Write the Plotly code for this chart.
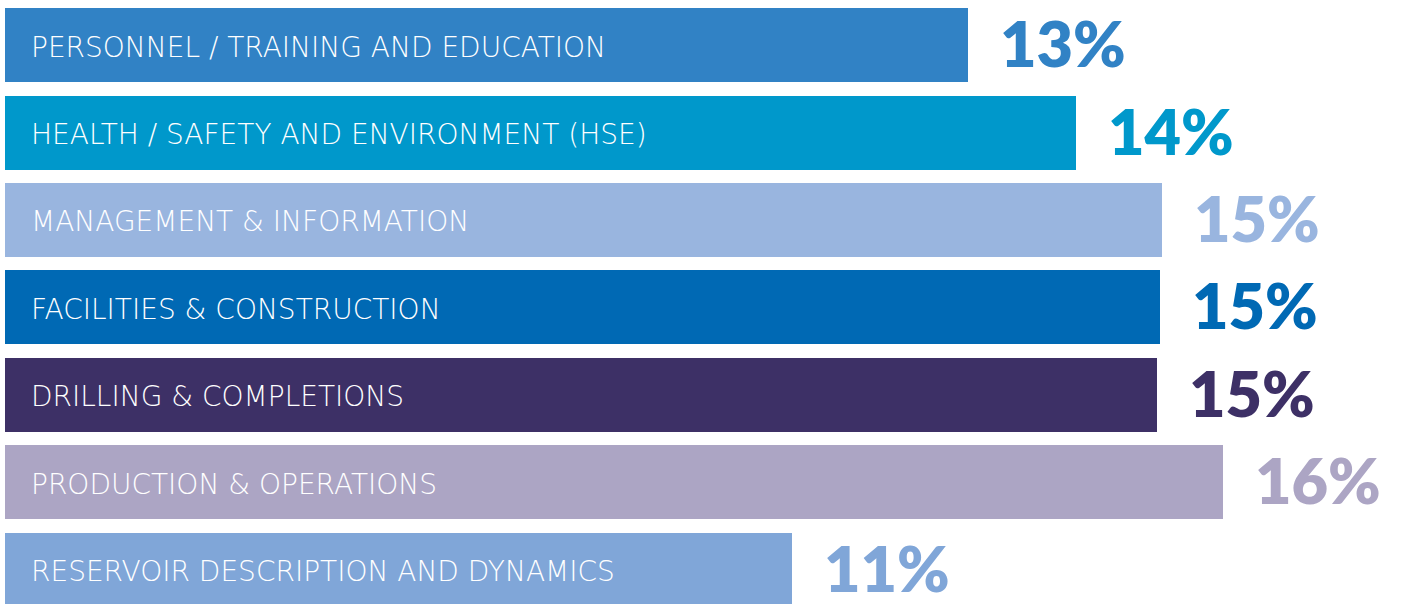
import plotly.graph_objects as go

categories = [
    "PERSONNEL / TRAINING AND EDUCATION",
    "HEALTH / SAFETY AND ENVIRONMENT (HSE)",
    "MANAGEMENT & INFORMATION",
    "FACILITIES & CONSTRUCTION",
    "DRILLING & COMPLETIONS",
    "PRODUCTION & OPERATIONS",
    "RESERVOIR DESCRIPTION AND DYNAMICS",
]
values = [12.87, 14.32, 15.47, 15.44, 15.40, 16.28, 10.52]
value_labels = ["13%", "14%", "15%", "15%", "15%", "16%", "11%"]
colors = ["#3182C5", "#0098CB", "#99B5DF", "#0069B4", "#3D3066", "#ACA5C4", "#80A6D8"]

positions = list(range(len(categories)))

fig = go.Figure()
fig.add_trace(go.Bar(
    x=values, y=positions, orientation="h",
    marker=dict(color=colors, line=dict(width=0)),
    width=0.8457, hoverinfo="skip", showlegend=False,
))

for i, (cat, val, lab, col) in enumerate(zip(categories, values, value_labels, colors)):
    fig.add_annotation(
        x=0, y=i, xref="x", yref="y", text=cat, showarrow=False,
        xanchor="left", yanchor="middle", xshift=24, yshift=-2,
        font=dict(family="DejaVu Sans", size=28, color="#FFFFFF", weight=200),
    )
    fig.add_annotation(
        x=val, y=i, xref="x", yref="y", text=lab, showarrow=False,
        xanchor="left", yanchor="middle", xshift=30, yshift=3,
        height=62, valign="middle",
        font=dict(family="Lato", size=63, color=col, weight=800),
    )

fig.update_layout(
    width=1411, height=604,
    margin=dict(l=5, r=0, t=1, b=0),
    paper_bgcolor="white", plot_bgcolor="white",
    xaxis=dict(range=[0, 18.8], visible=False, fixedrange=True),
    yaxis=dict(range=[6.389, -0.503], visible=False, fixedrange=True),
    bargap=0,
)

fig.write_html(
    "out.html",
    config={"displayModeBar": False, "staticPlot": True},
    post_script="document.body.style.margin='0';document.body.style.overflow='hidden';",
)
